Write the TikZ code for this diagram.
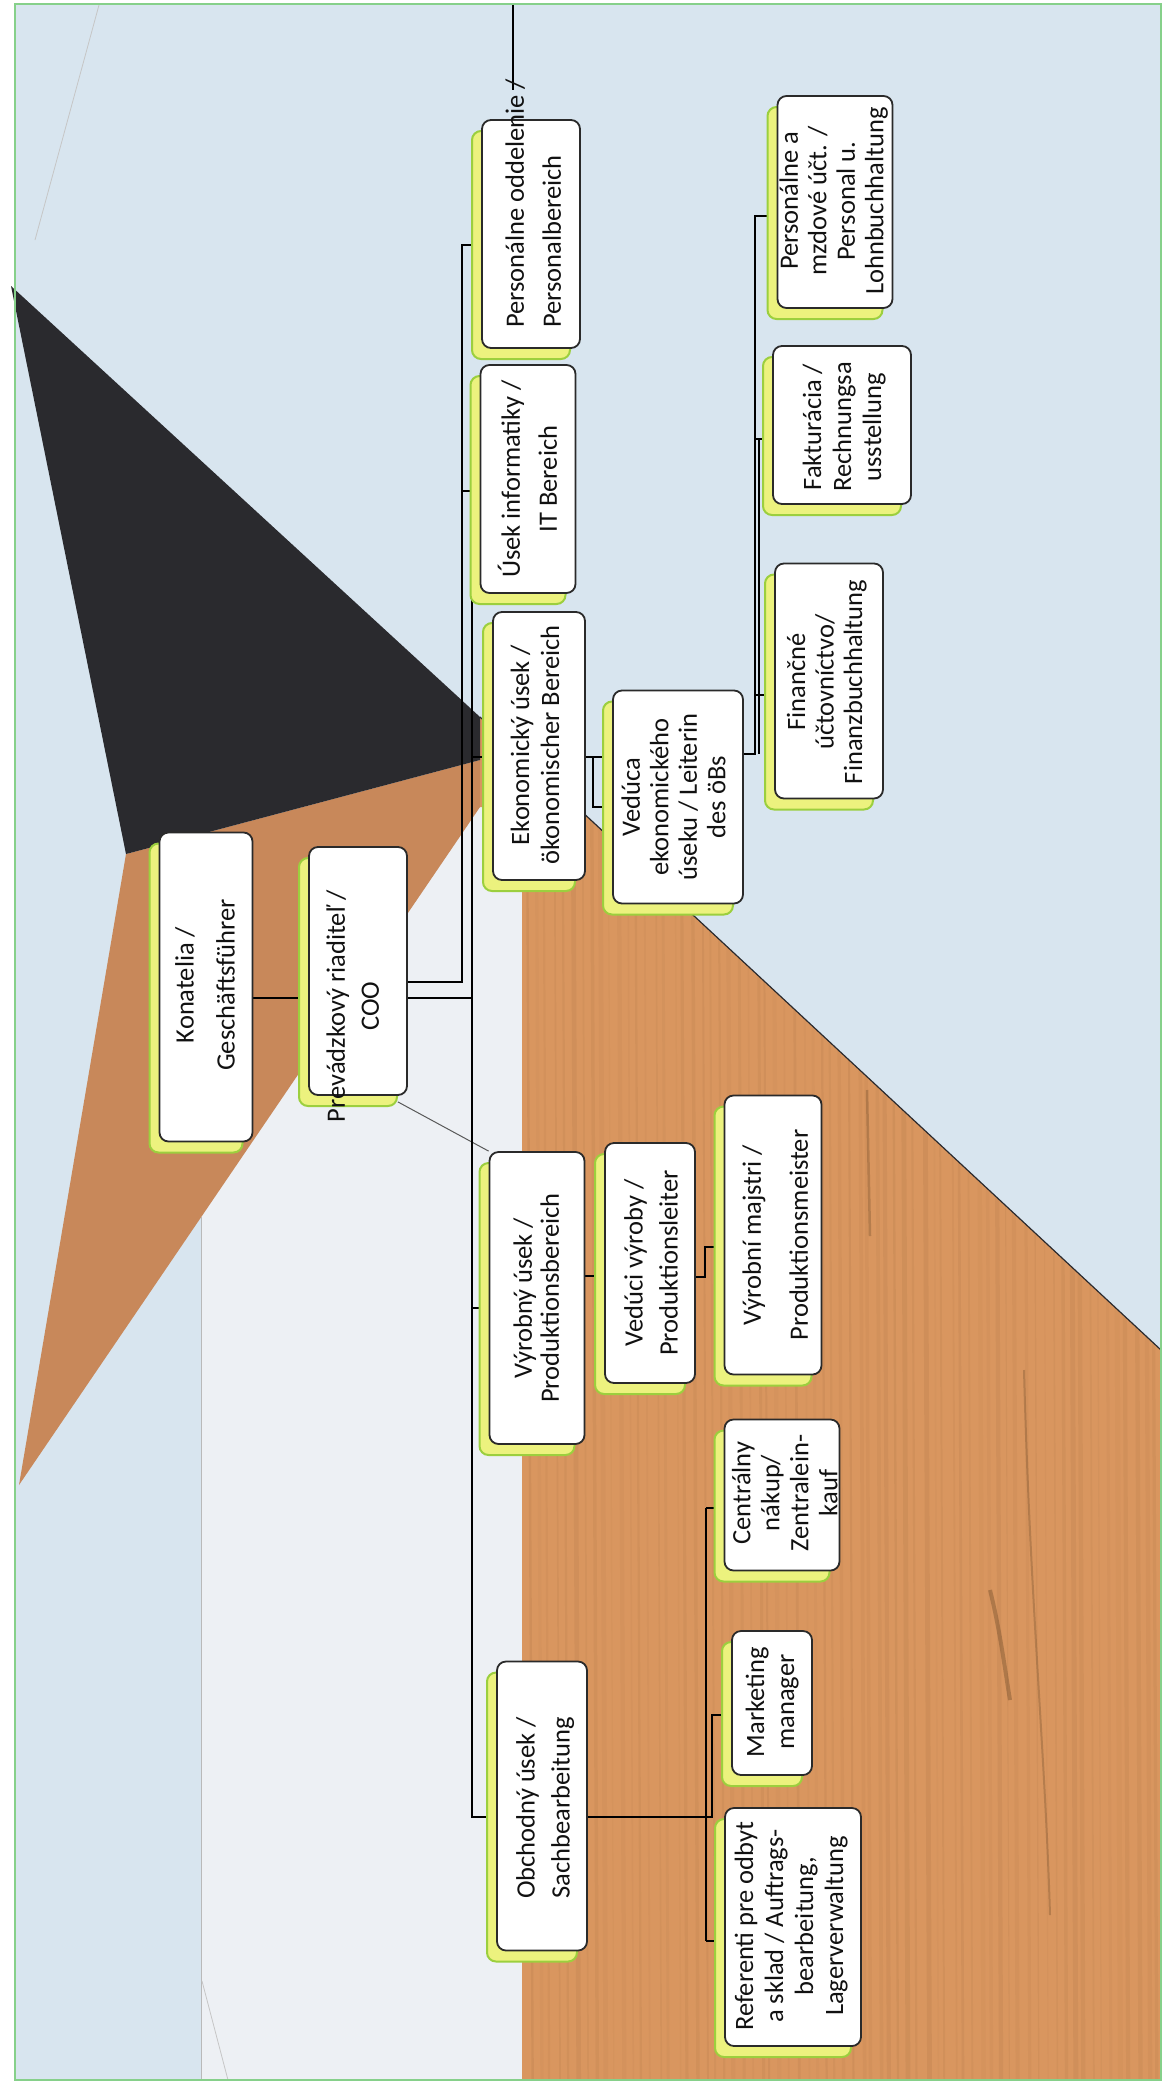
\documentclass[tikz,border=0pt]{standalone}
\usepackage{fontspec}
\setmainfont{Carlito}
\usepackage{graphicx}
\usetikzlibrary{shadows}
\pgfdeclarelayer{bgl}
\pgfdeclarelayer{connl}
\pgfsetlayers{bgl,connl,main}
\definecolor{bgblue}{HTML}{D8E5EF}
\definecolor{paper}{HTML}{EDF0F4}
\definecolor{wood}{HTML}{D9965F}
\definecolor{woodl}{HTML}{C8885A}
\definecolor{blk}{HTML}{2A2A2E}
\definecolor{framec}{HTML}{86D08A}
\definecolor{shfill}{HTML}{ECF27E}
\definecolor{shdraw}{HTML}{9CCF3E}
\definecolor{boxc}{HTML}{2A2A2A}
\definecolor{txtc}{HTML}{111111}
\newcommand{\rtxt}[3][c]{\rotatebox{90}{\fontsize{26.5}{#2}\selectfont\begin{tabular}{@{}#1@{}}#3\end{tabular}}}
\begin{document}
\begin{tikzpicture}[x=1pt,y=-1pt,
  box/.style={draw=boxc,line width=1.8pt,fill=white,rounded corners=9pt,inner sep=0pt,
    general shadow={fill=shfill,draw=shdraw,line width=2pt,shadow xshift=-10pt,shadow yshift=-11pt}},
  txt/.style={inner sep=0pt,text=txtc},
  conn/.style={draw=black,line width=2.8pt}]
\useasboundingbox (0,0) rectangle (1166,2085);

% ---------- background ----------
\begin{pgfonlayer}{bgl}
\fill[white] (0,0) rectangle (1166,2085);
\fill[bgblue] (15,4) rectangle (1161,2080);
\fill[paper] (201,1217) -- (480,807) -- (522,807) -- (522,2080) -- (201,2080) -- cycle;
\fill[woodl] (126,854) -- (480,760) -- (480,807) -- (19,1485) -- cycle;
\fill[wood] (480,717) -- (1161,1350) -- (1161,2080) -- (522,2080) -- (522,807) -- (480,807) -- cycle;
\begin{scope}
\clip (480,717) -- (1161,1350) -- (1161,2080) -- (522,2080) -- (522,807) -- cycle;
\pgfmathsetseed{11}
\foreach \i in {0,...,70}{
  \pgfmathsetmacro{\xx}{524+\i*9.2+4*rnd}
  \pgfmathsetmacro{\oo}{0.03+0.07*rnd}
  \pgfmathsetmacro{\ww}{1+4*rnd}
  \draw[brown!60!black,opacity=\oo,line width=\ww pt] (\xx,700) -- (\xx+6,2080);
}
\draw[brown!40!black,opacity=.25,line width=2pt] (1024,1370) .. controls (1030,1600) and (1045,1750) .. (1050,1915);
\draw[brown!40!black,opacity=.3,line width=4pt] (990,1590) .. controls (1000,1630) and (1005,1670) .. (1010,1700);
\draw[brown!40!black,opacity=.25,line width=2.5pt] (867,1090) -- (870,1236);
\end{scope}
\fill[blk] (11,286) -- (480,717) -- (480,760) -- (126,854) -- cycle;
\draw[blk,line width=1.2pt] (480,717) -- (1161,1350);
\draw[gray!55,line width=0.8pt] (201,1217) -- (201,2080);
\draw[gray!45,line width=0.8pt] (202,1981) -- (228,2080);
\draw[gray!45,line width=0.8pt] (99,5) -- (35,240);
\draw[black,line width=1.2pt] (513,4) -- (513,90);
\draw[framec,line width=2.5pt] (15,4) rectangle (1161,2080);
\end{pgfonlayer}

% ---------- boxes ----------
\node[box,minimum width=93pt,minimum height=309pt] (kon) at (206,987) {};
\node[box,minimum width=98pt,minimum height=248pt] (coo) at (358,971) {};
\node[box,minimum width=92pt,minimum height=268pt] (eko) at (539,746) {};
\node[box,minimum width=95pt,minimum height=228pt] (it) at (528,479) {};
\node[box,minimum width=98pt,minimum height=228pt] (pers) at (531,234) {};
\node[box,minimum width=130pt,minimum height=213pt] (ved) at (678,797) {};
\node[box,minimum width=108pt,minimum height=235pt] (fin) at (829,681) {};
\node[box,minimum width=138pt,minimum height=158pt] (fak) at (842,425) {};
\node[box,minimum width=115pt,minimum height=212pt] (mzd) at (835,202) {};
\node[box,minimum width=95pt,minimum height=292pt] (vyr) at (537,1298) {};
\node[box,minimum width=90pt,minimum height=240pt] (vvy) at (650,1263) {};
\node[box,minimum width=97pt,minimum height=279pt] (maj) at (773,1235) {};
\node[box,minimum width=90pt,minimum height=289pt] (obc) at (542,1806) {};
\node[box,minimum width=136pt,minimum height=238pt] (ref) at (793,1927) {};
\node[box,minimum width=80pt,minimum height=144pt] (mkt) at (772,1703) {};
\node[box,minimum width=115pt,minimum height=151pt] (cen) at (782,1495) {};

% ---------- texts ----------
\node[txt] (kont) at (206,985) {\rtxt{41}{Konatelia /\\Geschäftsführer}};
\node[txt] (coot) at (355,1006) {\rtxt{34}{Prevádzkový riaditeľ /\\COO}};
\node[txt] (ekot) at (538,745) {\rtxt{30}{Ekonomický úsek /\\ökonomischer Bereich}};
\node[txt] (itt) at (531,479) {\rtxt{37}{Úsek informatiky /\\IT Bereich}};
\node[txt,anchor=south] (perst) at (535,328) {\rtxt[l]{37}{Personálne oddelenie /\\Personalbereich}};
\node[txt] (vedt) at (677,797) {\rtxt{28.5}{Vedúca\\ekonomického\\úseku / Leiterin\\des öBs}};
\node[txt] (fint) at (828,682) {\rtxt{28.5}{Finančné\\účtovníctvo/\\Finanzbuchhaltung}};
\node[txt] (fakt) at (845,427) {\rtxt{30}{Fakturácia /\\Rechnungsa\\usstellung}};
\node[txt] (mzdt) at (835,201) {\rtxt{28.5}{Personálne a\\mzdové účt. /\\Personal u.\\Lohnbuchhaltung}};
\node[txt] (vyrt) at (540,1298) {\rtxt{27}{Výrobný úsek /\\Produktionsbereich}};
\node[txt] (vvyt) at (653,1263) {\rtxt{35}{Vedúci výroby /\\Produktionsleiter}};
\node[txt] (majt) at (775,1235) {\rtxt{47}{Výrobní majstri /\\Produktionsmeister}};
\node[txt] (obct) at (545,1808) {\rtxt{35}{Obchodný úsek /\\Sachbearbeitung}};
\node[txt] (reft) at (792,1926) {\rtxt{30}{Referenti pre odbyt\\a sklad / Auftrags-\\bearbeitung,\\Lagerverwaltung}};
\node[txt] (mktt) at (773,1702) {\rtxt{30}{Marketing\\manager}};
\node[txt] (cent) at (788,1493) {\rtxt{29}{Centrálny\\nákup/\\Zentralein-\\kauf}};

% ---------- connectors ----------
\coordinate (A1) at (462,245);
\coordinate (A2) at (462,982);
\coordinate (B1) at (472,491);
\coordinate (B2) at (472,1817);
\coordinate (E1) at (593,757);
\coordinate (V1) at (755,754);
\coordinate (V2) at (755,216);
\coordinate (V3) at (759,439);
\coordinate (M1) at (705,1277);
\coordinate (O1) at (712,1817);
\coordinate (O2) at (706,1508);
\coordinate (O3) at (706,1941);
\coordinate (O4) at (712,1715);
\begin{pgfonlayer}{connl}
\draw[gray!70!black,line width=1pt] (coo.south east) ++(-10,6) coordinate (g1) -- (vyr.north west);
\draw[conn] (kon.east |- 0,998) -- (coo.west |- 0,998);
\draw[conn] (coo.east |- A2) -- (A2) -- (A1) -- (pers.west |- A1);
\draw[conn] (A1 |- B1) -- (it.west |- B1);
\draw[conn] (coo.east |- 0,998) -- (B1 |- 0,998);
\draw[conn] (B1) -- (B2) -- (obc.west |- B2);
\draw[conn] (B1 |- 0,757) -- (eko.west |- 0,757);
\draw[conn] (B1 |- 0,1308) -- (vyr.west |- 0,1308);
\draw[conn] (eko.east |- E1) -- (ved.west |- E1);
\draw[conn] (E1) |- (ved.west |- 0,807);
\draw[conn] (ved.east |- V1) -- (V1) -- (V2) -- (mzd.west |- V2);
\draw[conn] (V3) -- (V3 |- V1);
\draw[conn] (V1 |- V3) -- (fak.west |- V3);
\draw[conn] (V1 |- 0,695) -- (fin.west |- 0,695);
\draw[conn] (vyr.east |- 0,1276) -- (vvy.west |- 0,1276);
\draw[conn] (vvy.east |- M1) -- (M1) |- (maj.west |- 0,1247);
\draw[conn] (obc.east |- O1) -- (O1) -- (O4) -- (mkt.west |- O4);
\draw[conn] (O2) -- (O3);
\draw[conn] (O2) -- (cen.west |- O2);
\draw[conn] (O3) -- (ref.west |- O3);
\end{pgfonlayer}
\end{tikzpicture}
\end{document}
